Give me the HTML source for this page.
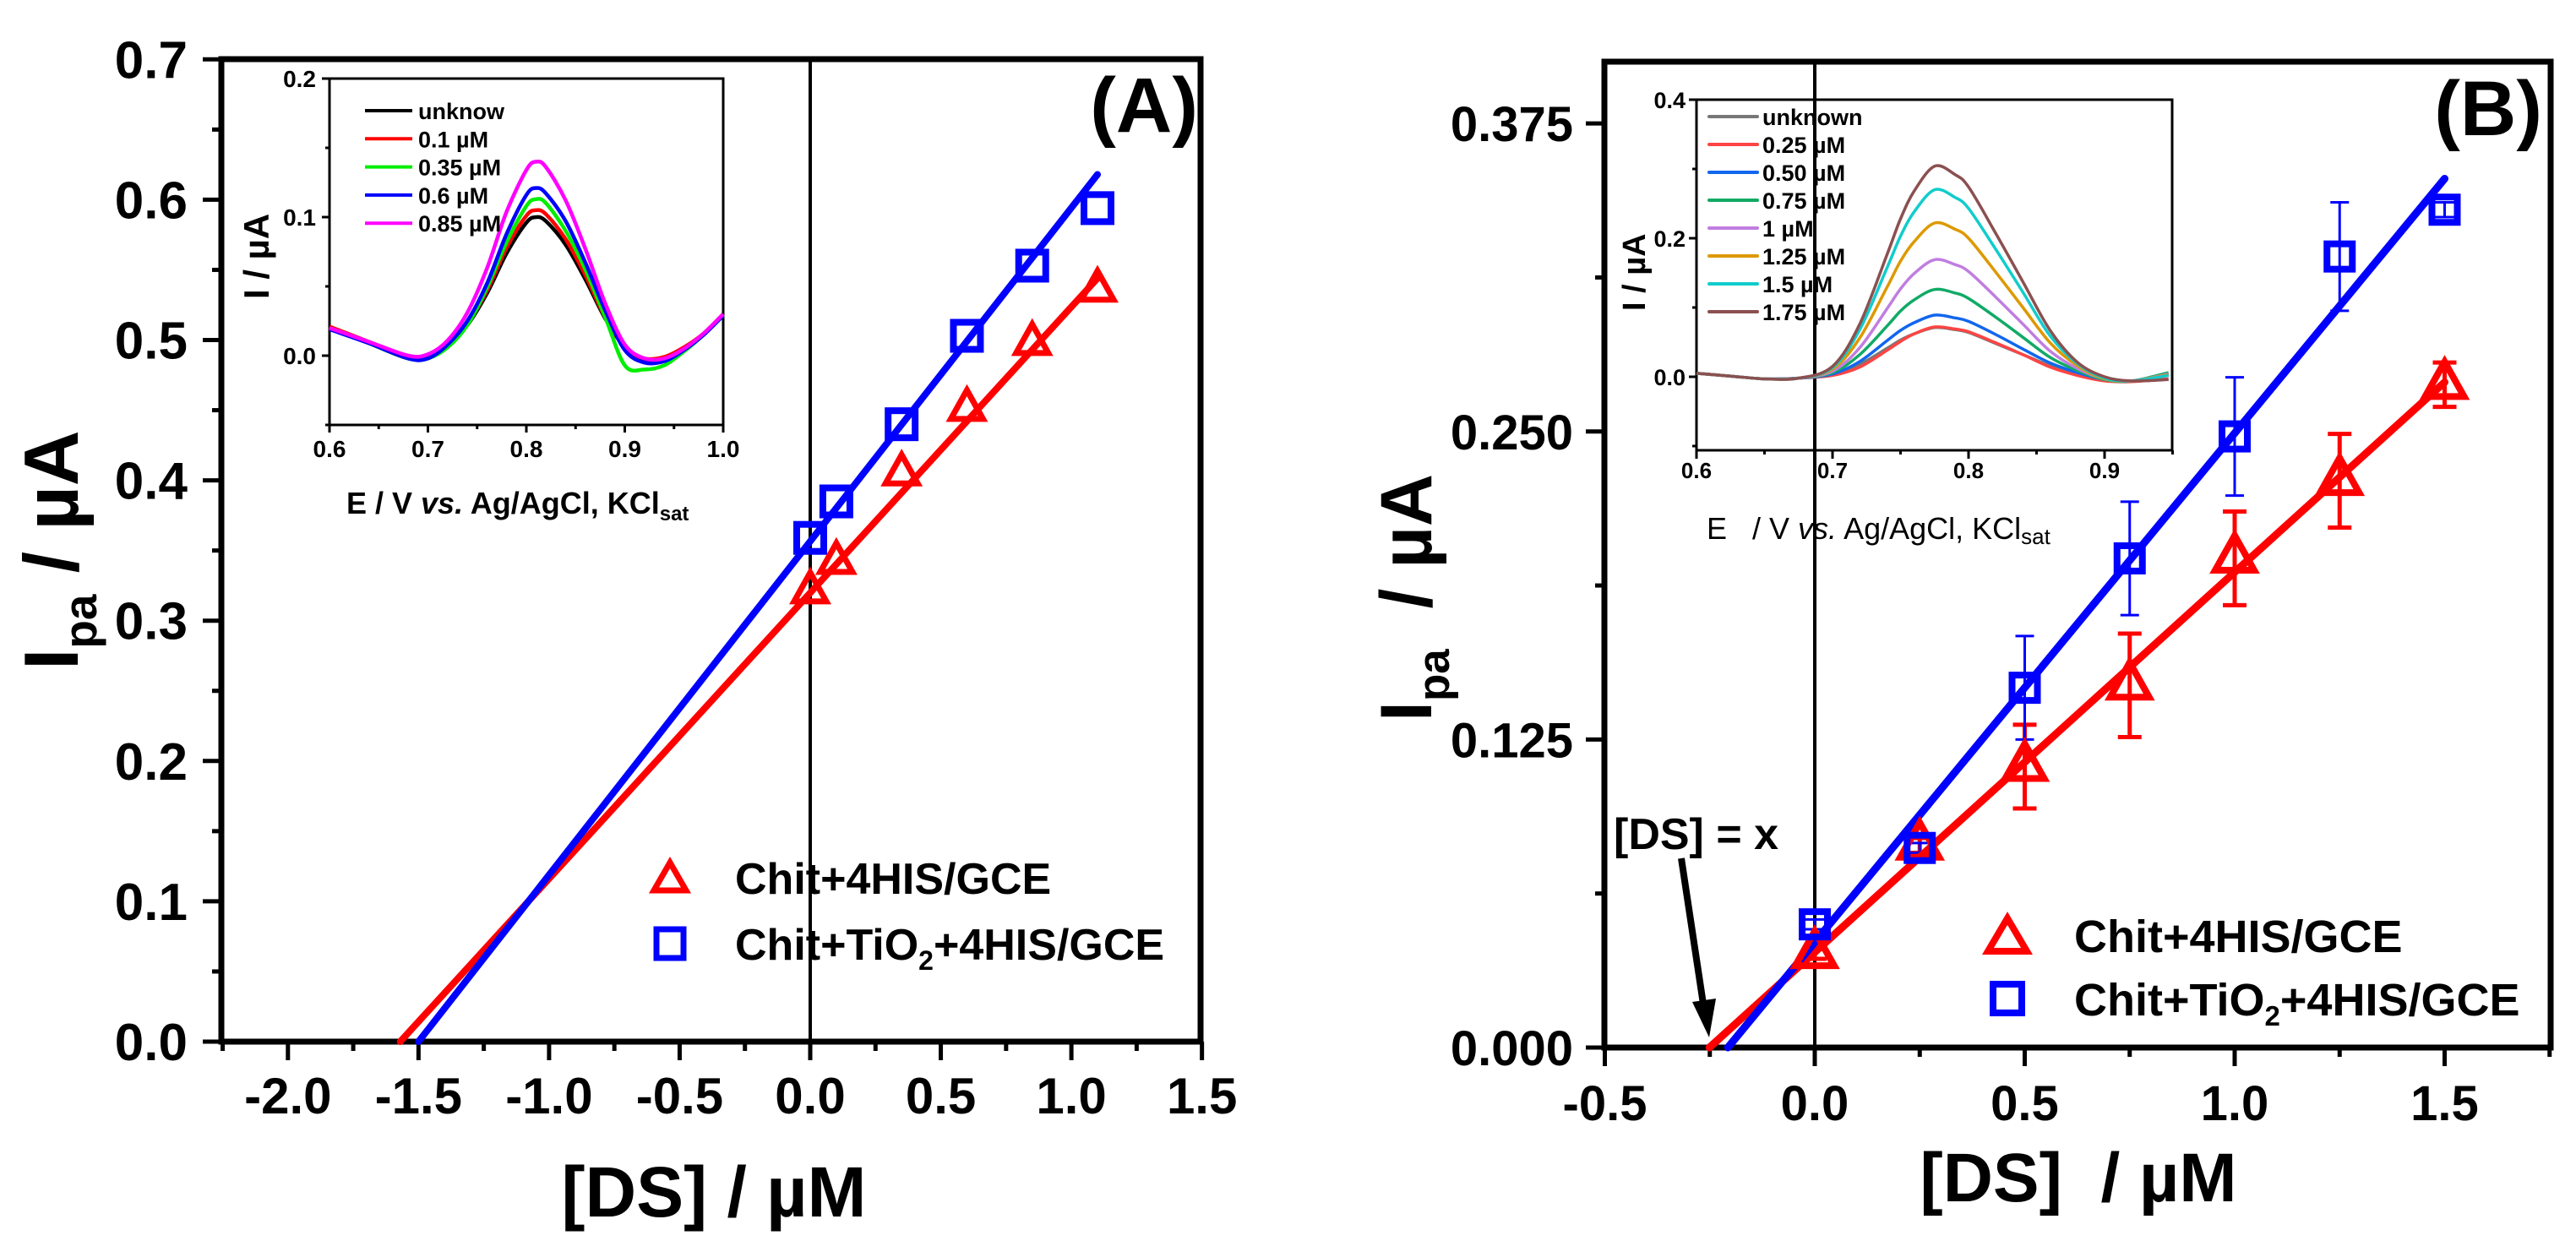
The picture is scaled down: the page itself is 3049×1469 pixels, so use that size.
<!DOCTYPE html>
<html><head><meta charset="utf-8"><style>
html,body{margin:0;padding:0;background:#fff}
svg{display:block;font-family:"Liberation Sans",Arial,sans-serif}
</style></head><body>
<svg id="fig" width="3049" height="1469" viewBox="0 0 3049 1469" xmlns="http://www.w3.org/2000/svg">
<rect width="3049" height="1469" fill="#fff"/>
<g id="A"></g>
<g id="B"></g>
<g id="IA"></g>
<g id="IB"></g>
<text x="1418" y="156" text-anchor="end" font-size="92" font-weight="bold">(A)</text>
<text x="3009" y="160" text-anchor="end" font-size="92" font-weight="bold">(B)</text>
<text x="845" y="1440" text-anchor="middle" font-size="84" font-weight="bold">[DS] / µM</text>
<text x="2460" y="1422" text-anchor="middle" font-size="82" font-weight="bold" xml:space="preserve">[DS]  / µM</text>
<text transform="translate(92,793) rotate(-90)" font-size="91" font-weight="bold">I<tspan font-size="55" dy="22">pa</tspan><tspan dy="-22"> / µA</tspan></text>
<text transform="translate(1694,854) rotate(-90)" font-size="86" font-weight="bold" xml:space="preserve">I<tspan font-size="53" dy="21">pa</tspan><tspan dy="-21">  / µA</tspan></text>
<g>
<path d="M793,1021 L812,1054 L774,1054 Z" fill="none" stroke="#f00" stroke-width="7" stroke-linejoin="miter"/>
<text x="870" y="1058" font-size="52" font-weight="bold">Chit+4HIS/GCE</text>
<rect x="777" y="1100" width="32" height="34" fill="none" stroke="#00f" stroke-width="7"/>
<text x="870" y="1136" font-size="52" font-weight="bold">Chit+TiO<tspan font-size="32" dy="12">2</tspan><tspan dy="-12">+4HIS/GCE</tspan></text>
</g>
<g>
<path d="M2376,1087 L2399,1126 L2353,1126 Z" fill="none" stroke="#f00" stroke-width="8"/>
<text x="2455" y="1127" font-size="54" font-weight="bold">Chit+4HIS/GCE</text>
<rect x="2359" y="1165" width="34" height="34" fill="none" stroke="#00f" stroke-width="8"/>
<text x="2455" y="1202" font-size="54" font-weight="bold">Chit+TiO<tspan font-size="33" dy="12">2</tspan><tspan dy="-12">+4HIS/GCE</tspan></text>
</g>
<g>
<text x="1910" y="1005" font-size="52" font-weight="bold">[DS] = x</text>
<line x1="1990" y1="1016" x2="2017" y2="1195" stroke="#000" stroke-width="8"/>
<path d="M2023,1228 L2003,1186 L2031,1182 Z" fill="#000"/>
</g>
<text transform="translate(318,354) rotate(-90)" font-size="42" font-weight="bold">I / µA</text>
<text x="410" y="608" font-size="36" font-weight="bold">E / V <tspan font-style="italic">vs.</tspan> Ag/AgCl, KCl<tspan font-size="24" dy="8">sat</tspan></text>
<text transform="translate(1947,368) rotate(-90)" font-size="38" font-weight="bold">I / µA</text>
<text x="2020" y="638" font-size="36" xml:space="preserve">E   / V <tspan font-style="italic">vs.</tspan> Ag/AgCl, KCl<tspan font-size="26" dy="6">sat</tspan></text>
</svg>
<script>
const NS='http://www.w3.org/2000/svg';
// ---------- Panel A data ----------
const aX=[0,0.1,0.35,0.6,0.85,1.1];
const aRed=[0.321,0.342,0.405,0.451,0.498,0.536];
const aBlue=[0.359,0.385,0.440,0.503,0.553,0.594];
const aRedFit=[[-1.57,0],[1.1,0.544]];
const aBlueFit=[[-1.50,0],[1.1,0.618]];
const aXTicks=[-2.0,-1.5,-1.0,-0.5,0.0,0.5,1.0,1.5];
const aYTicks=[0,0.1,0.2,0.3,0.4,0.5,0.6,0.7];
// ---------- Panel B data ----------
const bX=[0,0.25,0.5,0.75,1.0,1.25,1.5];
const bRed=[0.038,0.082,0.114,0.147,0.1985,0.230,0.269];
const bRedErr=[0.002,0.003,0.017,0.021,0.019,0.019,0.009];
const bBlue=[0.050,0.081,0.146,0.1985,0.248,0.321,0.340];
const bBlueErr=[0.002,0.002,0.021,0.023,0.024,0.022,0.003];
const bRedFit=[[-0.251,0],[1.5,0.270]];
const bBlueFit=[[-0.207,0],[1.5,0.3526]];
const bXTicks=[-0.5,0.0,0.5,1.0,1.5];
const bYTicks=[0,0.125,0.25,0.375];
const bYLabels=['0.000','0.125','0.250','0.375'];
// ---------- Inset A data ----------
const iaX=[0.60,0.64,0.68,0.70,0.72,0.74,0.76,0.78,0.80,0.81,0.82,0.84,0.86,0.88,0.90,0.92,0.94,0.96,0.98,1.00];
const iaBlack=[0.020,0.009,-0.002,0.000,0.008,0.022,0.045,0.074,0.096,0.100,0.097,0.080,0.055,0.027,0.006,-0.004,-0.003,0.005,0.015,0.030];
const iaRed=[0.021,0.010,-0.001,0.000,0.008,0.023,0.047,0.078,0.101,0.105,0.102,0.084,0.058,0.028,0.006,-0.002,-0.001,0.006,0.016,0.030];
const iaGreen=[0.020,0.009,-0.002,-0.002,0.006,0.022,0.049,0.082,0.108,0.113,0.110,0.090,0.062,0.028,-0.007,-0.010,-0.007,0.003,0.015,0.029];
const iaBlue=[0.019,0.009,-0.002,-0.002,0.008,0.025,0.052,0.088,0.116,0.121,0.117,0.097,0.067,0.033,0.004,-0.005,-0.004,0.004,0.015,0.029];
const iaMagenta=[0.020,0.010,0.000,0.001,0.011,0.031,0.063,0.104,0.134,0.140,0.136,0.112,0.077,0.038,0.008,-0.002,-0.002,0.005,0.016,0.030];
const iaNames=['unknow','0.1 µM','0.35 µM','0.6 µM','0.85 µM'];
const iaColors=['#000000','#ff0000','#00ee00','#0000ff','#ff00ff'];
const iaXTicks=[0.6,0.7,0.8,0.9,1.0];
const iaYTicks=[0.0,0.1,0.2];
// ---------- Inset B data ----------
const ibX=[0.60,0.625,0.65,0.675,0.70,0.72,0.74,0.75,0.76,0.775,0.79,0.80,0.82,0.84,0.86,0.88,0.90,0.92,0.947];
const ibGray=[0.005,0.001,-0.003,-0.002,0.004,0.018,0.041,0.053,0.062,0.071,0.068,0.064,0.048,0.032,0.016,0.004,-0.004,-0.006,0.002];
const ibRed=[0.005,0.001,-0.003,-0.002,0.002,0.014,0.038,0.051,0.062,0.072,0.069,0.065,0.049,0.032,0.014,0.002,-0.006,-0.007,-0.003];
const ibBlue=[0.005,0.001,-0.003,-0.002,0.004,0.022,0.052,0.067,0.078,0.089,0.085,0.080,0.061,0.040,0.020,0.006,-0.004,-0.006,0.005];
const ibGreen=[0.005,0.001,-0.003,-0.002,0.006,0.032,0.073,0.095,0.111,0.126,0.121,0.113,0.086,0.057,0.028,0.009,-0.004,-0.006,0.006];
const ibViolet=[0.005,0.001,-0.003,-0.002,0.008,0.042,0.098,0.127,0.149,0.169,0.162,0.152,0.115,0.076,0.037,0.012,-0.003,-0.006,0.004];
const ibOrange=[0.005,0.001,-0.003,-0.002,0.011,0.056,0.129,0.167,0.195,0.222,0.213,0.200,0.151,0.100,0.049,0.016,-0.003,-0.006,0.003];
const ibCyan=[0.005,0.001,-0.003,-0.002,0.013,0.068,0.157,0.203,0.238,0.270,0.259,0.243,0.184,0.122,0.059,0.019,-0.002,-0.006,0.002];
const ibBrown=[0.005,0.001,-0.003,-0.002,0.015,0.076,0.176,0.228,0.268,0.304,0.292,0.274,0.207,0.137,0.067,0.021,0.000,-0.006,-0.004];
const ibNames=['unknown','0.25 µM','0.50 µM','0.75 µM','1 µM','1.25 µM','1.5 µM','1.75 µM'];
const ibColors=['#777777','#ff4444','#1166ee','#11aa66','#c07ee0','#dd9900','#11cccc','#8b5050'];
const ibXTicks=[0.6,0.7,0.8,0.9];
const ibYTicks=[0.0,0.2,0.4];

const xA=v=>959+v*309.1, yA=v=>1233-v*1661;
const xB=v=>2148+v*497, yB=v=>1240-v*2917;
const xIA=v=>390+(v-0.6)*1165, yIA=v=>421-v*1640;
const xIB=v=>2008+(v-0.6)*1610, yIB=v=>446-v*820;

function mk(parent,tag,attrs,txt){const e=document.createElementNS(NS,tag);for(const k in attrs)e.setAttribute(k,attrs[k]);if(txt!==undefined)e.textContent=txt;parent.appendChild(e);return e;}
function smooth(pts){let d='M'+pts[0][0].toFixed(1)+','+pts[0][1].toFixed(1);for(let i=0;i<pts.length-1;i++){const p0=pts[i-1]||pts[i],p1=pts[i],p2=pts[i+1],p3=pts[i+2]||p2;const c1=[p1[0]+(p2[0]-p0[0])/6,p1[1]+(p2[1]-p0[1])/6],c2=[p2[0]-(p3[0]-p1[0])/6,p2[1]-(p3[1]-p1[1])/6];d+=' C'+c1[0].toFixed(1)+','+c1[1].toFixed(1)+' '+c2[0].toFixed(1)+','+c2[1].toFixed(1)+' '+p2[0].toFixed(1)+','+p2[1].toFixed(1);}return d;}
function frame(g,L,T,R,Bt,w,name){const r=mk(g,'rect',{x:L,y:T,width:R-L,height:Bt-T,fill:'none',stroke:'#000','stroke-width':w});}

// ===== Panel A =====
(function(){const g=document.getElementById('A');
frame(g,262,70,1421,1233,7,'plot-frame-a');
const z=mk(g,'line',{x1:xA(0),y1:70,x2:xA(0),y2:1233,stroke:'#000','stroke-width':4});

aXTicks.forEach((v,i)=>{const t=mk(g,'line',{x1:xA(v),y1:1233,x2:xA(v),y2:1255,stroke:'#000','stroke-width':5});

if(xA(v+0.25)<=1422){const m=mk(g,'line',{x1:xA(v+0.25),y1:1233,x2:xA(v+0.25),y2:1244,stroke:'#000','stroke-width':5});
}
if(i===0){const m0=mk(g,'line',{x1:xA(v-0.25),y1:1233,x2:xA(v-0.25),y2:1244,stroke:'#000','stroke-width':5});
}
const l=mk(g,'text',{x:xA(v),y:1318,'text-anchor':'middle','font-size':60,'font-weight':'bold'},v.toFixed(1));
});
aYTicks.forEach(v=>{const t=mk(g,'line',{x1:240,y1:yA(v),x2:262,y2:yA(v),stroke:'#000','stroke-width':5});

if(v<0.7){const m=mk(g,'line',{x1:251,y1:yA(v+0.05),x2:262,y2:yA(v+0.05),stroke:'#000','stroke-width':5});
}
const l=mk(g,'text',{x:222,y:yA(v)+22,'text-anchor':'end','font-size':62,'font-weight':'bold'},v.toFixed(1));
});
const fr=mk(g,'line',{x1:xA(aRedFit[0][0]),y1:yA(aRedFit[0][1]),x2:xA(aRedFit[1][0]),y2:yA(aRedFit[1][1]),stroke:'#f00','stroke-width':8,'stroke-linecap':'round'});

const fb=mk(g,'line',{x1:xA(aBlueFit[0][0]),y1:yA(aBlueFit[0][1]),x2:xA(aBlueFit[1][0]),y2:yA(aBlueFit[1][1]),stroke:'#00f','stroke-width':8,'stroke-linecap':'round'});

aX.forEach((x,i)=>{const cx=xA(x),cy=yA(aRed[i]);
const t=mk(g,'path',{d:`M${cx},${cy-22} L${cx+19},${cy+12} L${cx-19},${cy+12} Z`,fill:'none',stroke:'#f00','stroke-width':7});

const by=yA(aBlue[i]);
const s=mk(g,'rect',{x:cx-16,y:by-16,width:32,height:32,fill:'none',stroke:'#00f','stroke-width':8});
});
})();

// ===== Panel B =====
(function(){const g=document.getElementById('B');
frame(g,1899,73,3019,1240,7,'plot-frame-b');
const z=mk(g,'line',{x1:xB(0),y1:73,x2:xB(0),y2:1240,stroke:'#000','stroke-width':4});

bXTicks.forEach(v=>{const t=mk(g,'line',{x1:xB(v),y1:1240,x2:xB(v),y2:1262,stroke:'#000','stroke-width':5});

if(xB(v+0.25)<=3020){const m=mk(g,'line',{x1:xB(v+0.25),y1:1240,x2:xB(v+0.25),y2:1251,stroke:'#000','stroke-width':5});
}
const l=mk(g,'text',{x:xB(v),y:1326,'text-anchor':'middle','font-size':58,'font-weight':'bold'},v.toFixed(1));
});
bYTicks.forEach((v,i)=>{const t=mk(g,'line',{x1:1877,y1:yB(v),x2:1899,y2:yB(v),stroke:'#000','stroke-width':5});

const m=mk(g,'line',{x1:1888,y1:yB(v+0.0625),x2:1899,y2:yB(v+0.0625),stroke:'#000','stroke-width':5});

const l=mk(g,'text',{x:1862,y:yB(v)+21,'text-anchor':'end','font-size':58,'font-weight':'bold'},bYLabels[i]);
});
bX.forEach((x,i)=>{const cx=xB(x);
const e1=mk(g,'path',{d:`M${cx},${yB(bRed[i]+bRedErr[i])} V${yB(bRed[i]-bRedErr[i])} M${cx-14},${yB(bRed[i]+bRedErr[i])} h28 M${cx-14},${yB(bRed[i]-bRedErr[i])} h28`,stroke:'#f00','stroke-width':5,fill:'none'});

const e2=mk(g,'path',{d:`M${cx},${yB(bBlue[i]+bBlueErr[i])} V${yB(bBlue[i]-bBlueErr[i])} M${cx-11},${yB(bBlue[i]+bBlueErr[i])} h22 M${cx-11},${yB(bBlue[i]-bBlueErr[i])} h22`,stroke:'#00f','stroke-width':3,fill:'none'});
});
const fr=mk(g,'line',{x1:xB(bRedFit[0][0]),y1:yB(bRedFit[0][1]),x2:xB(bRedFit[1][0]),y2:yB(bRedFit[1][1]),stroke:'#f00','stroke-width':9,'stroke-linecap':'round'});

const fb=mk(g,'line',{x1:xB(bBlueFit[0][0]),y1:yB(bBlueFit[0][1]),x2:xB(bBlueFit[1][0]),y2:yB(bBlueFit[1][1]),stroke:'#00f','stroke-width':9,'stroke-linecap':'round'});

bX.forEach((x,i)=>{const cx=xB(x),cy=yB(bRed[i]);
const t=mk(g,'path',{d:`M${cx},${cy-27} L${cx+23},${cy+14} L${cx-23},${cy+14} Z`,fill:'none',stroke:'#f00','stroke-width':8});

const by=yB(bBlue[i]);
const s=mk(g,'rect',{x:cx-15,y:by-15,width:30,height:30,fill:'none',stroke:'#00f','stroke-width':8});
});
})();

// ===== Inset A =====
(function(){const g=document.getElementById('IA');
frame(g,390,93,856,503,3,'inset-a-frame');
iaXTicks.forEach(v=>{const t=mk(g,'line',{x1:xIA(v),y1:503,x2:xIA(v),y2:512,stroke:'#000','stroke-width':3});

if(v<1){const m=mk(g,'line',{x1:xIA(v+0.05),y1:503,x2:xIA(v+0.05),y2:508,stroke:'#000','stroke-width':3});
}
const l=mk(g,'text',{x:xIA(v),y:541,'text-anchor':'middle','font-size':28,'font-weight':'bold'},v.toFixed(1));
});
iaYTicks.forEach(v=>{const t=mk(g,'line',{x1:381,y1:yIA(v),x2:390,y2:yIA(v),stroke:'#000','stroke-width':3});

const m=mk(g,'line',{x1:385,y1:yIA(v-0.05),x2:390,y2:yIA(v-0.05),stroke:'#000','stroke-width':3});

const l=mk(g,'text',{x:374,y:yIA(v)+10,'text-anchor':'end','font-size':28,'font-weight':'bold'},v.toFixed(1));
});
const series=[iaBlack,iaRed,iaGreen,iaBlue,iaMagenta];
series.forEach((s,k)=>{const p=mk(g,'path',{d:smooth(iaX.map((x,i)=>[xIA(x),yIA(s[i])])),fill:'none',stroke:iaColors[k],'stroke-width':4.5});

const ly=131+k*33.3;
const ll=mk(g,'line',{x1:432,y1:ly,x2:488,y2:ly,stroke:iaColors[k],'stroke-width':4});

const lt=mk(g,'text',{x:495,y:ly+10,'font-size':27,'font-weight':'bold'},iaNames[k]);
});
})();

// ===== Inset B =====
(function(){const g=document.getElementById('IB');
frame(g,2008,118,2571,533,3,'inset-b-frame');
ibXTicks.forEach(v=>{const t=mk(g,'line',{x1:xIB(v),y1:533,x2:xIB(v),y2:543,stroke:'#000','stroke-width':3});

const m=mk(g,'line',{x1:xIB(v+0.05),y1:533,x2:xIB(v+0.05),y2:538,stroke:'#000','stroke-width':3});

const l=mk(g,'text',{x:xIB(v),y:566,'text-anchor':'middle','font-size':26,'font-weight':'bold'},v.toFixed(1));
});
ibYTicks.forEach(v=>{const t=mk(g,'line',{x1:1999,y1:yIB(v),x2:2008,y2:yIB(v),stroke:'#000','stroke-width':3});

const m=mk(g,'line',{x1:2003,y1:yIB(v-0.1),x2:2008,y2:yIB(v-0.1),stroke:'#000','stroke-width':3});

const l=mk(g,'text',{x:1995,y:yIB(v)+10,'text-anchor':'end','font-size':27,'font-weight':'bold'},v.toFixed(1));
});
const series=[ibGray,ibRed,ibBlue,ibGreen,ibViolet,ibOrange,ibCyan,ibBrown];
series.forEach((s,k)=>{const p=mk(g,'path',{d:smooth(ibX.map((x,i)=>[xIB(x),yIB(s[i])])),fill:'none',stroke:ibColors[k],'stroke-width':3.5});

const ly=138+k*33;
const ll=mk(g,'line',{x1:2023,y1:ly,x2:2080,y2:ly,stroke:ibColors[k],'stroke-width':4,'stroke-linecap':'round'});

const lt=mk(g,'text',{x:2086,y:ly+10,'font-size':27,'font-weight':'bold'},ibNames[k]);
});
})();
</script>
</body></html>
